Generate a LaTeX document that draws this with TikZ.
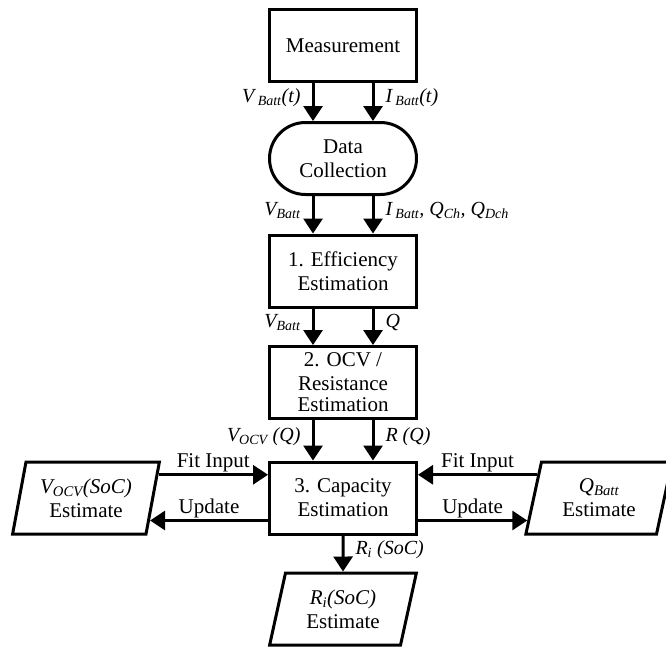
\documentclass[tikz,border=0pt]{standalone}
\usepackage{fontspec}
\setmainfont{Liberation Serif}
\usetikzlibrary{arrows.meta,shapes.geometric,calc}
\newcommand{\pedice}[1]{\textsubscript{#1}}
\tikzset{
  blocco/.style={draw,line width=3pt,minimum width=147pt,minimum height=72pt,align=center,inner sep=2pt,font=\fontsize{21}{24}\selectfont},
  raccolta/.style={blocco,rounded corners=36pt},
  dato/.style={blocco,trapezium,trapezium left angle=76,trapezium right angle=104,trapezium stretches=true},
  freccia/.style={line width=3pt,-{Triangle[length=15pt,width=19pt]}},
  etsx/.style={midway,left=11pt,inner sep=0pt,yshift=4pt,font=\fontsize{20}{22}\selectfont\itshape},
  etdx/.style={midway,right=11pt,inner sep=0pt,yshift=4pt,font=\fontsize{20}{22}\selectfont\itshape},
  etsopra/.style={midway,above,inner sep=1pt,font=\fontsize{21}{24}\selectfont},
}
\begin{document}
\begin{tikzpicture}[x=1pt,y=-1pt]
  \useasboundingbox (0,0) rectangle (666,648); %area della figura

  %blocchi centrali
  \node[blocco] (mis) at (343,45.5) {Measurement};
  \node[raccolta] (racc) at (343,158.5) {Data\\Collection};
  \node[blocco] (eff) at (343,271) {1. Efficiency\\Estimation};
  \node[blocco] (ocv) at (343,382.5) {2. OCV /\\Resistance\\[-3pt]Estimation};
  \node[blocco] (cap) at (343,498) {3. Capacity\\Estimation};
  %stime in uscita
  \node[dato] (vocv) at (86,498) {\textit{V\pedice{OCV}(SoC)}\\Estimate};
  \node[dato] (qbatt) at (599,498) {\textit{Q\pedice{Batt}}\\Estimate};
  \node[dato] (ri) at (343,609) {\textit{R\pedice{i}(SoC)}\\Estimate};

  %frecce verticali
  \draw[freccia] ([xshift=-30pt]mis.south) -- ([xshift=-30pt]racc.north) node[etsx]{V\,\pedice{Batt}(t)};
  \draw[freccia] ([xshift=30pt]mis.south) -- ([xshift=30pt]racc.north) node[etdx]{I\,\pedice{Batt}(t)};
  \draw[freccia] ([xshift=-30pt]racc.south) -- ([xshift=-30pt]eff.north) node[etsx]{V\pedice{Batt}};
  \draw[freccia] ([xshift=30pt]racc.south) -- ([xshift=30pt]eff.north) node[etdx]{I\,\pedice{Batt}, Q\pedice{Ch}, Q\pedice{Dch}};
  \draw[freccia] ([xshift=-30pt]eff.south) -- ([xshift=-30pt]ocv.north) node[etsx]{V\pedice{Batt}};
  \draw[freccia] ([xshift=30pt]eff.south) -- ([xshift=30pt]ocv.north) node[etdx]{Q};
  \draw[freccia] ([xshift=-30pt]ocv.south) -- ([xshift=-30pt]cap.north) node[etsx]{V\pedice{OCV} (Q)};
  \draw[freccia] ([xshift=30pt]ocv.south) -- ([xshift=30pt]cap.north) node[etdx]{R (Q)};
  \draw[freccia] (cap.south) -- (ri.north) node[etdx]{R\pedice{i} (SoC)};

  %frecce orizzontali
  \coordinate (fitsx) at ($(vocv.top right corner)!0.19!(vocv.bottom right corner)$);
  \coordinate (updsx) at ($(vocv.top right corner)!0.8!(vocv.bottom right corner)$);
  \coordinate (fitdx) at ($(qbatt.top left corner)!0.19!(qbatt.bottom left corner)$);
  \coordinate (upddx) at ($(qbatt.top left corner)!0.8!(qbatt.bottom left corner)$);
  \draw[freccia] (fitsx) -- (fitsx -| cap.west) node[etsopra]{Fit Input};
  \draw[freccia] (updsx -| cap.west) -- (updsx) node[etsopra]{Update};
  \draw[freccia] (fitdx) -- (fitdx -| cap.east) node[etsopra]{Fit Input};
  \draw[freccia] (upddx -| cap.east) -- (upddx) node[etsopra]{Update};
\end{tikzpicture}
\end{document}
